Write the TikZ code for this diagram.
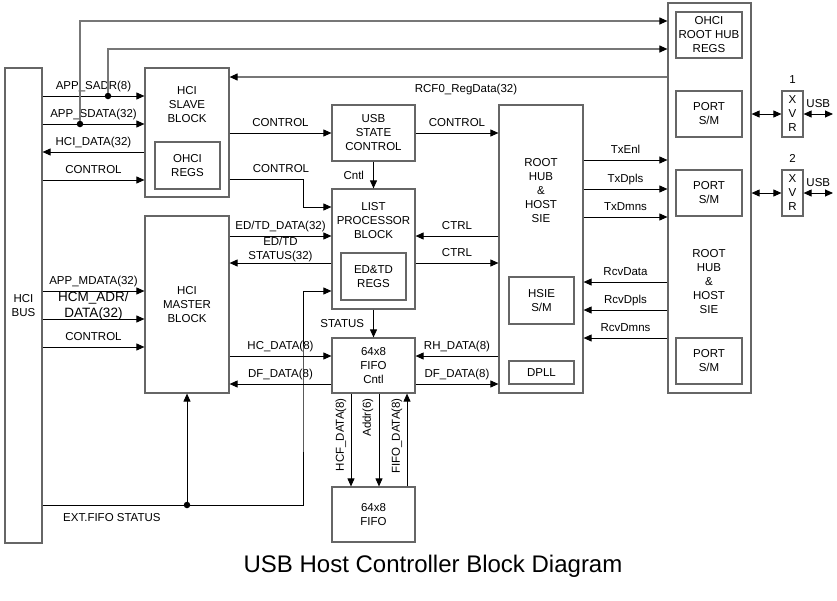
\documentclass[tikz,border=0pt]{standalone}
\usepackage{fontspec}
\setmainfont{Liberation Sans}
\definecolor{BOXgray}{HTML}{666666}
\definecolor{LINEgray}{HTML}{777777}
\usetikzlibrary{arrows.meta, positioning, calc}

\begin{document}
\begin{tikzpicture}[x=1pt, y=-1pt,
      font=\fontsize{11.5}{14}\selectfont,
      blk/.style={draw=BOXgray, line width=1.2pt, align=center, inner sep=0pt},
      txt/.style={align=center, inner sep=0pt, text=black},
      arr/.style={-{Triangle[length=8pt, width=7pt, color=black]}, line width=0.9pt},
      darr/.style={{Triangle[length=8pt, width=7pt]}-{Triangle[length=8pt, width=7pt]}, line width=0.9pt},
      sigup/.style={txt, anchor=base, yshift=7pt},
      sigdn/.style={txt, anchor=north, yshift=-7pt},
      tap/.style={circle, fill, inner sep=0pt, minimum size=6.5pt}]
   \useasboundingbox (0,0) rectangle (837,600);
   % Blocks
   \node[blk, minimum width=37pt, minimum height=475pt] (bus) at (23.5,305.5) {HCI\\BUS};
   \node[blk, minimum width=84pt, minimum height=129pt] (slave) at (187,132.5) {};
   \node[txt, anchor=north] (slavetxt) at (187,86) {HCI\\SLAVE\\BLOCK};
   \node[blk, minimum width=65pt, minimum height=47pt] (ohciregs) at (187.5,165.5) {OHCI\\REGS};
   \node[blk, minimum width=84pt, minimum height=177pt] (master) at (187,304.5) {HCI\\MASTER\\BLOCK};
   \node[blk, minimum width=83pt, minimum height=56pt] (usc) at (373.5,133) {USB\\STATE\\CONTROL};
   \node[blk, minimum width=83pt, minimum height=120pt] (lpb) at (373.5,249) {};
   \node[txt, anchor=north] (lpbtxt) at (373.5,202) {LIST\\PROCESSOR\\BLOCK};
   \node[blk, minimum width=65pt, minimum height=47pt] (edtd) at (373.5,276.5) {ED\&TD\\REGS};
   \node[blk, minimum width=83pt, minimum height=55pt] (fifoc) at (373.5,365.5) {64x8\\FIFO\\Cntl};
   \node[blk, minimum width=83pt, minimum height=55pt] (fifo) at (373.5,514.5) {64x8\\FIFO};
   \node[blk, minimum width=84pt, minimum height=288pt] (rhs) at (541,249) {};
   \node[txt] (rhstxt) at (541,191) {ROOT\\HUB\\\&\\HOST\\SIE};
   \node[blk, minimum width=65pt, minimum height=47pt] (hsie) at (541.5,300.5) {HSIE\\S/M};
   \node[blk, minimum width=65pt, minimum height=23pt] (dpll) at (541.5,372.5) {DPLL};
   \node[blk, minimum width=83pt, minimum height=390pt] (rh) at (709.5,198) {};
   \node[blk, minimum width=66pt, minimum height=46pt] (rhregs) at (709,35) {OHCI\\ROOT HUB\\REGS};
   \node[blk, minimum width=66pt, minimum height=46pt] (port1) at (709,114) {PORT\\S/M};
   \node[blk, minimum width=66pt, minimum height=46pt] (port2) at (709,193) {PORT\\S/M};
   \node[txt] (rhtxt) at (709,282) {ROOT\\HUB\\\&\\HOST\\SIE};
   \node[blk, minimum width=66pt, minimum height=46pt] (port3) at (709,361) {PORT\\S/M};
   \node[blk, minimum width=21pt, minimum height=46pt] (xvr1) at (792.5,114) {X\\V\\R};
   \node[blk, minimum width=21pt, minimum height=46pt] (xvr2) at (792.5,193) {X\\V\\R};
   \node[txt, above=7pt of xvr1] (num1) {1};
   \node[txt, above=7pt of xvr2] (num2) {2};
   \coordinate (usb1) at (833,114);
   \coordinate (usb2) at (833,193);
   % HCI bus <-> slave block
   \draw[arr] (bus.east |- 0,96) -- (slave.west |- 0,96) node[midway, sigup] {APP\_SADR(8)};
   \draw[arr] (bus.east |- 0,124) -- (slave.west |- 0,124) node[midway, sigup] {APP\_SDATA(32)};
   \draw[arr] (slave.west |- 0,152) -- (bus.east |- 0,152) node[midway, sigup] {HCI\_DATA(32)};
   \draw[arr] (bus.east |- 0,180) -- (slave.west |- 0,180) node[midway, sigup] {CONTROL};
   % taps up to the root hub regs
   \node[tap] (tapa) at (108,96) {};
   \node[tap] (tapb) at (80,124) {};
   \draw[arr, LINEgray, line width=1.1pt] (tapa) |- (rh.west |- 0,49);
   \draw[arr, LINEgray, line width=1.1pt] (tapb) |- (rh.west |- 0,21);
   \draw[arr, LINEgray, line width=1.1pt] (rh.west |- 0,77) -- (slave.east |- 0,77)
      node[pos=0.46, sigdn] {RCF0\_RegData(32)};
   % HCI bus <-> master block
   \draw[arr] (bus.east |- 0,291) -- (master.west |- 0,291) node[midway, sigup] {APP\_MDATA(32)};
   \draw[arr] (bus.east |- 0,319) -- (master.west |- 0,319)
      node[midway, txt, anchor=south, yshift=-2pt, font=\fontsize{13.5}{16}\selectfont] {HCM\_ADR/\\DATA(32)};
   \draw[arr] (bus.east |- 0,347) -- (master.west |- 0,347) node[midway, sigup] {CONTROL};
   % slave block -> state control, list processor
   \draw[arr] (slave.east |- usc.west) -- (usc.west) node[midway, sigup] {CONTROL};
   \draw[arr] (slave.east |- 0,179) -- (303,179) node[pos=0.7, sigup] {CONTROL}
      -- (303,207) -- (lpb.west |- 0,207);
   \draw[arr] (usc) -- (lpb) node[midway, txt, anchor=east, xshift=-9pt] {Cntl};
   \draw[arr] (usc.east) -- (rhs.west |- usc.east) node[midway, sigup] {CONTROL};
   % master block <-> list processor
   \draw[arr] (master.east |- 0,236) -- (lpb.west |- 0,236) node[midway, sigup] {ED/TD\_DATA(32)};
   \draw[arr] (lpb.west |- 0,263) -- (master.east |- 0,263)
      node[midway, txt, anchor=south, yshift=1pt] {ED/TD\\STATUS(32)};
   % list processor <-> root hub SIE
   \draw[arr] (rhs.west |- 0,236) -- (lpb.east |- 0,236) node[midway, sigup] {CTRL};
   \draw[arr] (lpb.east |- 0,263) -- (rhs.west |- 0,263) node[midway, sigup] {CTRL};
   % FIFO control
   \draw[arr] (lpb) -- (fifoc) node[midway, txt, anchor=east, xshift=-9pt] {STATUS};
   \draw[arr] (master.east |- 0,356) -- (fifoc.west |- 0,356) node[midway, sigup] {HC\_DATA(8)};
   \draw[arr] (fifoc.west |- 0,384) -- (master.east |- 0,384) node[midway, sigup] {DF\_DATA(8)};
   \draw[arr] (rhs.west |- 0,356) -- (fifoc.east |- 0,356) node[midway, sigup] {RH\_DATA(8)};
   \draw[arr] (fifoc.east |- 0,384) -- (rhs.west |- 0,384) node[midway, sigup] {DF\_DATA(8)};
   % FIFO
   \draw[arr] (fifoc.south -| 351,0) -- (fifo.north -| 351,0);
   \draw[arr] (fifoc.south -| 379,0) -- (fifo.north -| 379,0);
   \draw[arr] (fifo.north -| 407,0) -- (fifoc.south -| 407,0);
   \node[txt, rotate=90, anchor=east] (hcflbl) at (341,398) {HCF\_DATA(8)};
   \node[txt, rotate=90, anchor=east] (addrlbl) at (368,398) {Addr(6)};
   \node[txt, rotate=90, anchor=east] (fifolbl) at (397,398) {FIFO\_DATA(8)};
   % ext. FIFO status
   \draw[arr] (bus.east |- 0,505) -| (303,400) |- (lpb.west |- 0,291);
   \node[tap] (tapc) at (master.south |- 0,505) {};
   \draw[arr] (tapc) -- (master.south);
   \node[txt, anchor=north west] (extlbl) at (63,513) {EXT.FIFO STATUS};
   % root hub SIE <-> root hub
   \draw[arr] (rhs.east |- 0,160) -- (rh.west |- 0,160) node[midway, sigup] {TxEnl};
   \draw[arr] (rhs.east |- 0,189) -- (rh.west |- 0,189) node[midway, sigup] {TxDpls};
   \draw[arr] (rhs.east |- 0,217) -- (rh.west |- 0,217) node[midway, sigup] {TxDmns};
   \draw[arr] (rh.west |- 0,282) -- (rhs.east |- 0,282) node[midway, sigup] {RcvData};
   \draw[arr] (rh.west |- 0,310) -- (rhs.east |- 0,310) node[midway, sigup] {RcvDpls};
   \draw[arr] (rh.west |- 0,338) -- (rhs.east |- 0,338) node[midway, sigup] {RcvDmns};
   % transceivers
   \draw[darr] (rh.east |- xvr1.west) -- (xvr1.west);
   \draw[darr] (rh.east |- xvr2.west) -- (xvr2.west);
   \draw[darr] (xvr1.east) -- (usb1) node[midway, sigup] {USB};
   \draw[darr] (xvr2.east) -- (usb2) node[midway, sigup] {USB};
   % Title
   \node[anchor=base, inner sep=0pt, font=\fontsize{24}{28}\selectfont] (title) at (433,572)
      {USB Host Controller Block Diagram};
\end{tikzpicture}
\end{document}
